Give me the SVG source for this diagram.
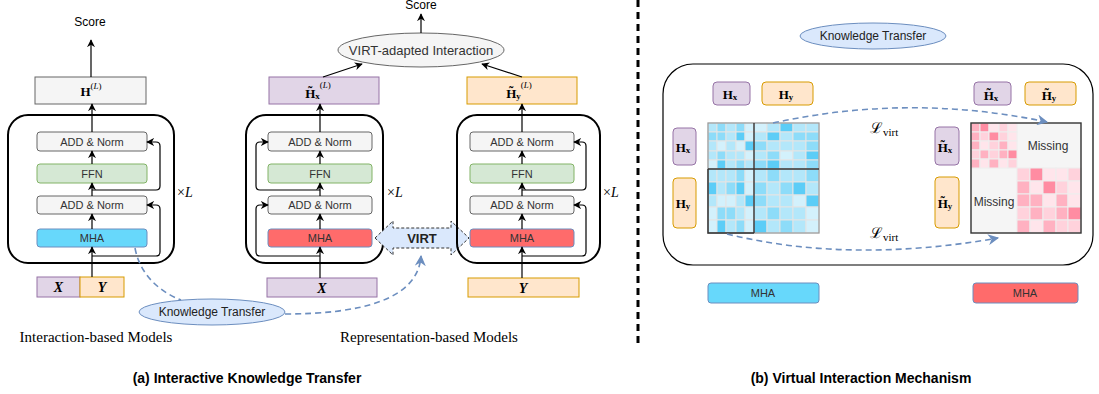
<svg xmlns="http://www.w3.org/2000/svg" width="1099" height="394" viewBox="0 0 1099 394">
<style>
.lbl{font-family:"Liberation Sans",Arial,sans-serif;font-size:11px;fill:#333;text-anchor:middle;dominant-baseline:central}
.sans{font-family:"Liberation Sans",Arial,sans-serif;text-anchor:middle;dominant-baseline:central}
.serif{font-family:"Liberation Serif","Times New Roman",serif}
.mth{font-family:"Liberation Serif","DejaVu Serif",serif;font-weight:bold;text-anchor:middle;dominant-baseline:central}
.gray{fill:#f5f5f5;stroke:#666;stroke-width:1}
.green{fill:#d5e8d4;stroke:#82b366;stroke-width:1}
.blue{fill:#67d8fb;stroke:#6c8ebf;stroke-width:1}
.red{fill:#ff6b6b;stroke:#6c8ebf;stroke-width:1}
.purple{fill:#e1d5e7;stroke:#9673a6;stroke-width:1}
.orange{fill:#ffe6cc;stroke:#d79b00;stroke-width:1}
.kt{fill:#dae8fc;stroke:#6c8ebf;stroke-width:1}
.frame{fill:none;stroke:#000;stroke-width:2}
.ln{fill:none;stroke:#000;stroke-width:1.2}
.dash{fill:none;stroke:#6c8ebf;stroke-width:1.6;stroke-dasharray:6 4}
.b1{fill:#5ccdf7;stroke:#e4e4e4}.b2{fill:#8ddcf9;stroke:#e4e4e4}.b3{fill:#b3e7fa;stroke:#e4e4e4}.b4{fill:#d3f1fc;stroke:#e4e4e4}
.p1{fill:#ff8ca2;stroke:#eee}.p2{fill:#ffb1c1;stroke:#eee}.p3{fill:#ffd2dc;stroke:#eee}.p4{fill:#ffe5eb;stroke:#eee}
.cap{font-family:"Liberation Sans",Arial,sans-serif;font-size:14px;font-weight:bold;fill:#000;text-anchor:middle;dominant-baseline:central}
</style>
<defs>
<marker id="ah" viewBox="0 0 10 10" refX="9" refY="5" markerWidth="8" markerHeight="8" markerUnits="userSpaceOnUse" orient="auto"><path d="M0,0 L10,5 L0,10 L3,5 z" fill="#000"/></marker>
<marker id="ahb" viewBox="0 0 10 10" refX="9" refY="5" markerWidth="11" markerHeight="11" markerUnits="userSpaceOnUse" orient="auto"><path d="M0,0 L10,5 L0,10 L3,5 z" fill="#6c8ebf"/></marker>
</defs>
<rect width="1099" height="394" fill="#fff"/>

<!-- separator -->
<line x1="638" y1="0" x2="638" y2="345" stroke="#000" stroke-width="3" stroke-dasharray="7 5"/>

<!-- ===== Left: interaction-based model ===== -->
<g id="score-left"><text x="90" y="22" class="sans" font-size="12" fill="#000">Score</text></g>
<g id="H-L"><rect x="35" y="77" width="111" height="27" class="gray"/>
<text x="91" y="91" class="mth" font-size="13">H<tspan font-size="9" font-weight="normal" dy="-5">(</tspan><tspan font-size="9" font-weight="normal" font-style="italic">L</tspan><tspan font-size="9" font-weight="normal">)</tspan></text></g>
<g id="block-left">
<rect x="8" y="115" width="166" height="148" rx="20" class="frame"/>
<rect x="37" y="132" width="110" height="19" rx="3" class="gray"/><text x="92" y="141.5" class="lbl">ADD &amp; Norm</text>
<rect x="37" y="164" width="110" height="19" rx="3" class="green"/><text x="92" y="173.5" class="lbl">FFN</text>
<rect x="37" y="196" width="110" height="18" rx="3" class="gray"/><text x="92" y="205" class="lbl">ADD &amp; Norm</text>
<rect x="37" y="229" width="110" height="18" rx="3" class="blue"/><text x="92" y="238" class="lbl">MHA</text>
</g>
<g id="xl-left"><text x="177" y="197" class="serif" font-size="14">×<tspan font-style="italic">L</tspan></text></g>
<g id="XY-left">
<rect x="37" y="277" width="43" height="20" class="purple"/><text x="58.5" y="287" class="mth" font-size="14" font-style="italic">X</text>
<rect x="80" y="277" width="44" height="20" class="orange"/><text x="102" y="287" class="mth" font-size="14" font-style="italic">Y</text>
</g>
<g id="kt-left"><ellipse cx="212" cy="312" rx="73" ry="13" class="kt"/><text x="212" y="312" class="sans" font-size="12" fill="#222">Knowledge Transfer</text></g>
<text x="96" y="337" class="serif" font-size="15" text-anchor="middle" dominant-baseline="central">Interaction-based Models</text>

<!-- ===== Middle: representation X ===== -->
<g id="score-mid"><text x="421" y="5" class="sans" font-size="12" fill="#000">Score</text></g>
<g id="virt-inter"><ellipse cx="421" cy="50" rx="83" ry="17" class="gray"/><text x="421" y="50" class="sans" font-size="13" fill="#333">VIRT-adapted Interaction</text></g>
<g id="Hx-L"><rect x="269" y="77" width="110" height="27" class="purple"/>
<text x="318" y="93" class="mth" font-size="13">H̃<tspan font-size="9" dy="3">x</tspan><tspan font-size="9" font-weight="normal" dy="-11">(</tspan><tspan font-size="9" font-weight="normal" font-style="italic">L</tspan><tspan font-size="9" font-weight="normal">)</tspan></text></g>
<g id="block-x">
<rect x="246" y="115" width="137" height="148" rx="20" class="frame"/>
<rect x="268" y="132" width="104" height="19" rx="3" class="gray"/><text x="320" y="141.5" class="lbl">ADD &amp; Norm</text>
<rect x="268" y="164" width="104" height="19" rx="3" class="green"/><text x="320" y="173.5" class="lbl">FFN</text>
<rect x="268" y="196" width="104" height="18" rx="3" class="gray"/><text x="320" y="205" class="lbl">ADD &amp; Norm</text>
<rect x="268" y="229" width="104" height="18" rx="3" class="red"/><text x="320" y="238" class="lbl">MHA</text>
</g>
<g id="xl-mid"><text x="387" y="197" class="serif" font-size="14">×<tspan font-style="italic">L</tspan></text></g>
<g id="X-mid"><rect x="267" y="278" width="110" height="19" class="purple"/><text x="322" y="288" class="mth" font-size="14" font-style="italic">X</text></g>
<g id="virt"><path d="M375,238 L393,221 L393,228 L451,228 L451,221 L469,238 L451,255 L451,248 L393,248 L393,255 Z" fill="#dae8fc" stroke="#333" stroke-width="1" stroke-dasharray="3 2"/><text x="422" y="238" class="sans" font-size="13" font-weight="bold" fill="#222">VIRT</text></g>
<text x="429" y="337" class="serif" font-size="15" text-anchor="middle" dominant-baseline="central">Representation-based Models</text>

<!-- ===== Right: representation Y ===== -->
<g id="Hy-L"><rect x="467" y="77" width="110" height="27" class="orange"/>
<text x="519" y="93" class="mth" font-size="13">H̃<tspan font-size="9" dy="3">y</tspan><tspan font-size="9" font-weight="normal" dy="-11">(</tspan><tspan font-size="9" font-weight="normal" font-style="italic">L</tspan><tspan font-size="9" font-weight="normal">)</tspan></text></g>
<g id="block-y">
<rect x="457" y="115" width="143" height="148" rx="20" class="frame"/>
<rect x="470" y="132" width="104" height="19" rx="3" class="gray"/><text x="522" y="141.5" class="lbl">ADD &amp; Norm</text>
<rect x="470" y="164" width="104" height="19" rx="3" class="green"/><text x="522" y="173.5" class="lbl">FFN</text>
<rect x="470" y="196" width="104" height="18" rx="3" class="gray"/><text x="522" y="205" class="lbl">ADD &amp; Norm</text>
<rect x="470" y="229" width="104" height="18" rx="3" class="red"/><text x="522" y="238" class="lbl">MHA</text>
</g>
<g id="xl-right"><text x="603" y="197" class="serif" font-size="14">×<tspan font-style="italic">L</tspan></text></g>
<g id="Y-right"><rect x="468" y="278" width="111" height="19" class="orange"/><text x="523" y="288" class="mth" font-size="14" font-style="italic">Y</text></g>

<!-- ===== Panel (b) ===== -->
<g id="kt-right"><ellipse cx="873" cy="36" rx="73" ry="13" class="kt"/><text x="873" y="36" class="sans" font-size="12" fill="#222">Knowledge Transfer</text></g>
<rect x="663" y="64" width="430" height="201" rx="30" fill="none" stroke="#000" stroke-width="1.2"/>
<g id="b-Hx"><rect x="713" y="82" width="37" height="23" rx="4" class="purple"/><text x="730" y="94" class="mth" font-size="13">H<tspan font-size="9" dy="3">x</tspan></text></g>
<g id="b-Hy"><rect x="762" y="82" width="51" height="23" rx="4" class="orange"/><text x="786" y="94" class="mth" font-size="13">H<tspan font-size="9" dy="3">y</tspan></text></g>
<g id="b-Htx"><rect x="974" y="82" width="37" height="23" rx="4" class="purple"/><text x="991" y="95" class="mth" font-size="13">H̃<tspan font-size="9" dy="3">x</tspan></text></g>
<g id="b-Hty"><rect x="1025" y="82" width="51" height="23" rx="4" class="orange"/><text x="1049" y="95" class="mth" font-size="13">H̃<tspan font-size="9" dy="3">y</tspan></text></g>
<g id="b-Hx-v"><rect x="673" y="128" width="23" height="37" rx="4" class="purple"/><text x="683" y="147" class="mth" font-size="13">H<tspan font-size="9" dy="3">x</tspan></text></g>
<g id="b-Hy-v"><rect x="673" y="178" width="23" height="50" rx="4" class="orange"/><text x="683" y="203" class="mth" font-size="13">H<tspan font-size="9" dy="3">y</tspan></text></g>
<g id="b-Htx-v"><rect x="935" y="127" width="24" height="38" rx="4" class="purple"/><text x="945" y="147" class="mth" font-size="13">H̃<tspan font-size="9" dy="3">x</tspan></text></g>
<g id="b-Hty-v"><rect x="935" y="177" width="24" height="51" rx="4" class="orange"/><text x="945" y="203" class="mth" font-size="13">H̃<tspan font-size="9" dy="3">y</tspan></text></g>

<!-- blue attention matrix -->
<g id="matrix-blue">
<rect x="708" y="123" width="111" height="110" fill="#e4e4e4"/>
<rect x="708" y="123" width="9" height="9" class="b3"/><rect x="717" y="123" width="9" height="9" class="b2"/><rect x="726" y="123" width="10" height="9" class="b3"/><rect x="736" y="123" width="9" height="9" class="b2"/><rect x="745" y="123" width="9" height="9" class="b4"/><rect x="754" y="123" width="13" height="9" class="b4"/><rect x="767" y="123" width="13" height="9" class="b3"/><rect x="780" y="123" width="13" height="9" class="b1"/><rect x="793" y="123" width="13" height="9" class="b3"/><rect x="806" y="123" width="13" height="9" class="b3"/>
<rect x="708" y="132" width="9" height="9" class="b2"/><rect x="717" y="132" width="9" height="9" class="b2"/><rect x="726" y="132" width="10" height="9" class="b3"/><rect x="736" y="132" width="9" height="9" class="b1"/><rect x="745" y="132" width="9" height="9" class="b4"/><rect x="754" y="132" width="13" height="9" class="b3"/><rect x="767" y="132" width="13" height="9" class="b1"/><rect x="780" y="132" width="13" height="9" class="b3"/><rect x="793" y="132" width="13" height="9" class="b2"/><rect x="806" y="132" width="13" height="9" class="b2"/>
<rect x="708" y="141" width="9" height="10" class="b3"/><rect x="717" y="141" width="9" height="10" class="b4"/><rect x="726" y="141" width="10" height="10" class="b3"/><rect x="736" y="141" width="9" height="10" class="b4"/><rect x="745" y="141" width="9" height="10" class="b1"/><rect x="754" y="141" width="13" height="10" class="b2"/><rect x="767" y="141" width="13" height="10" class="b3"/><rect x="780" y="141" width="13" height="10" class="b3"/><rect x="793" y="141" width="13" height="10" class="b3"/><rect x="806" y="141" width="13" height="10" class="b2"/>
<rect x="708" y="151" width="9" height="9" class="b3"/><rect x="717" y="151" width="9" height="9" class="b2"/><rect x="726" y="151" width="10" height="9" class="b3"/><rect x="736" y="151" width="9" height="9" class="b3"/><rect x="745" y="151" width="9" height="9" class="b4"/><rect x="754" y="151" width="13" height="9" class="b3"/><rect x="767" y="151" width="13" height="9" class="b2"/><rect x="780" y="151" width="13" height="9" class="b4"/><rect x="793" y="151" width="13" height="9" class="b3"/><rect x="806" y="151" width="13" height="9" class="b1"/>
<rect x="708" y="160" width="9" height="9" class="b4"/><rect x="717" y="160" width="9" height="9" class="b1"/><rect x="726" y="160" width="10" height="9" class="b3"/><rect x="736" y="160" width="9" height="9" class="b2"/><rect x="745" y="160" width="9" height="9" class="b3"/><rect x="754" y="160" width="13" height="9" class="b2"/><rect x="767" y="160" width="13" height="9" class="b1"/><rect x="780" y="160" width="13" height="9" class="b3"/><rect x="793" y="160" width="13" height="9" class="b3"/><rect x="806" y="160" width="13" height="9" class="b2"/>
<rect x="708" y="169" width="9" height="13" class="b3"/><rect x="717" y="169" width="9" height="13" class="b3"/><rect x="726" y="169" width="10" height="13" class="b3"/><rect x="736" y="169" width="9" height="13" class="b2"/><rect x="745" y="169" width="9" height="13" class="b4"/><rect x="754" y="169" width="13" height="13" class="b3"/><rect x="767" y="169" width="13" height="13" class="b2"/><rect x="780" y="169" width="13" height="13" class="b3"/><rect x="793" y="169" width="13" height="13" class="b3"/><rect x="806" y="169" width="13" height="13" class="b2"/>
<rect x="708" y="182" width="9" height="13" class="b1"/><rect x="717" y="182" width="9" height="13" class="b3"/><rect x="726" y="182" width="10" height="13" class="b2"/><rect x="736" y="182" width="9" height="13" class="b1"/><rect x="745" y="182" width="9" height="13" class="b4"/><rect x="754" y="182" width="13" height="13" class="b2"/><rect x="767" y="182" width="13" height="13" class="b3"/><rect x="780" y="182" width="13" height="13" class="b2"/><rect x="793" y="182" width="13" height="13" class="b1"/><rect x="806" y="182" width="13" height="13" class="b3"/>
<rect x="708" y="195" width="9" height="12" class="b3"/><rect x="717" y="195" width="9" height="12" class="b4"/><rect x="726" y="195" width="10" height="12" class="b4"/><rect x="736" y="195" width="9" height="12" class="b3"/><rect x="745" y="195" width="9" height="12" class="b1"/><rect x="754" y="195" width="13" height="12" class="b2"/><rect x="767" y="195" width="13" height="12" class="b3"/><rect x="780" y="195" width="13" height="12" class="b3"/><rect x="793" y="195" width="13" height="12" class="b4"/><rect x="806" y="195" width="13" height="12" class="b1"/>
<rect x="708" y="207" width="9" height="13" class="b4"/><rect x="717" y="207" width="9" height="13" class="b2"/><rect x="726" y="207" width="10" height="13" class="b2"/><rect x="736" y="207" width="9" height="13" class="b3"/><rect x="745" y="207" width="9" height="13" class="b4"/><rect x="754" y="207" width="13" height="13" class="b3"/><rect x="767" y="207" width="13" height="13" class="b2"/><rect x="780" y="207" width="13" height="13" class="b3"/><rect x="793" y="207" width="13" height="13" class="b3"/><rect x="806" y="207" width="13" height="13" class="b4"/>
<rect x="708" y="220" width="9" height="13" class="b4"/><rect x="717" y="220" width="9" height="13" class="b1"/><rect x="726" y="220" width="10" height="13" class="b3"/><rect x="736" y="220" width="9" height="13" class="b2"/><rect x="745" y="220" width="9" height="13" class="b4"/><rect x="754" y="220" width="13" height="13" class="b1"/><rect x="767" y="220" width="13" height="13" class="b3"/><rect x="780" y="220" width="13" height="13" class="b2"/><rect x="793" y="220" width="13" height="13" class="b3"/><rect x="806" y="220" width="13" height="13" class="b4"/>
<rect x="708" y="123" width="111" height="110" fill="none" stroke="#999" stroke-width="1.2"/>
<path d="M754,123 V233 M708,169 H819 M708,169 V233 H754" fill="none" stroke="#333" stroke-width="1.4"/>
</g>

<!-- red attention matrix -->
<g id="matrix-red">
<rect x="971" y="123" width="110" height="110" fill="#f5f5f5"/>
<rect x="971" y="123" width="9" height="9" class="p2"/><rect x="980" y="123" width="9" height="9" class="p1"/><rect x="989" y="123" width="10" height="9" class="p4"/><rect x="999" y="123" width="9" height="9" class="p3"/><rect x="1008" y="123" width="9" height="9" class="p4"/>
<rect x="971" y="132" width="9" height="9" class="p2"/><rect x="980" y="132" width="9" height="9" class="p3"/><rect x="989" y="132" width="10" height="9" class="p1"/><rect x="999" y="132" width="9" height="9" class="p3"/><rect x="1008" y="132" width="9" height="9" class="p4"/>
<rect x="971" y="141" width="9" height="9" class="p2"/><rect x="980" y="141" width="9" height="9" class="p4"/><rect x="989" y="141" width="10" height="9" class="p3"/><rect x="999" y="141" width="9" height="9" class="p2"/><rect x="1008" y="141" width="9" height="9" class="p4"/>
<rect x="971" y="150" width="9" height="9" class="p3"/><rect x="980" y="150" width="9" height="9" class="p2"/><rect x="989" y="150" width="10" height="9" class="p3"/><rect x="999" y="150" width="9" height="9" class="p2"/><rect x="1008" y="150" width="9" height="9" class="p1"/>
<rect x="971" y="159" width="9" height="9" class="p2"/><rect x="980" y="159" width="9" height="9" class="p4"/><rect x="989" y="159" width="10" height="9" class="p2"/><rect x="999" y="159" width="9" height="9" class="p4"/><rect x="1008" y="159" width="9" height="9" class="p3"/>
<rect x="1017" y="168" width="13" height="13" class="p3"/><rect x="1030" y="168" width="13" height="13" class="p1"/><rect x="1043" y="168" width="13" height="13" class="p4"/><rect x="1056" y="168" width="12" height="13" class="p4"/><rect x="1068" y="168" width="13" height="13" class="p3"/>
<rect x="1017" y="181" width="13" height="13" class="p2"/><rect x="1030" y="181" width="13" height="13" class="p4"/><rect x="1043" y="181" width="13" height="13" class="p1"/><rect x="1056" y="181" width="12" height="13" class="p3"/><rect x="1068" y="181" width="13" height="13" class="p4"/>
<rect x="1017" y="194" width="13" height="13" class="p2"/><rect x="1030" y="194" width="13" height="13" class="p2"/><rect x="1043" y="194" width="13" height="13" class="p4"/><rect x="1056" y="194" width="12" height="13" class="p2"/><rect x="1068" y="194" width="13" height="13" class="p4"/>
<rect x="1017" y="207" width="13" height="13" class="p3"/><rect x="1030" y="207" width="13" height="13" class="p2"/><rect x="1043" y="207" width="13" height="13" class="p3"/><rect x="1056" y="207" width="12" height="13" class="p2"/><rect x="1068" y="207" width="13" height="13" class="p1"/>
<rect x="1017" y="220" width="13" height="13" class="p2"/><rect x="1030" y="220" width="13" height="13" class="p4"/><rect x="1043" y="220" width="13" height="13" class="p2"/><rect x="1056" y="220" width="12" height="13" class="p3"/><rect x="1068" y="220" width="13" height="13" class="p3"/>
<text x="1048" y="146" class="sans" font-size="12" fill="#333">Missing</text>
<text x="994" y="202" class="sans" font-size="12" fill="#333">Missing</text>
<rect x="971" y="123" width="110" height="110" fill="none" stroke="#333" stroke-width="1.4"/>
</g>
<g id="lvirt">
<text x="870" y="133" font-family="'DejaVu Serif','Liberation Serif',serif" font-size="15">ℒ<tspan font-family="'Liberation Serif',serif" font-size="11" dy="3">virt</tspan></text>
<text x="870" y="238" font-family="'DejaVu Serif','Liberation Serif',serif" font-size="15">ℒ<tspan font-family="'Liberation Serif',serif" font-size="11" dy="3">virt</tspan></text>
</g>
<g id="b-mha">
<rect x="708" y="283" width="111" height="20" rx="3" class="blue"/><text x="763" y="293" class="lbl">MHA</text>
<rect x="973" y="283" width="105" height="20" rx="3" class="red"/><text x="1025" y="293" class="lbl">MHA</text>
</g>

<!-- captions -->
<text x="247" y="378" class="cap">(a) Interactive Knowledge Transfer</text>
<text x="861" y="378" class="cap">(b) Virtual Interaction Mechanism</text>

<!-- ===== connectors ===== -->
<g id="connectors">
<path class="ln" marker-end="url(#ah)" d="M92,277 V247"/>
<path class="ln" marker-end="url(#ah)" d="M92,229 V214"/>
<path class="ln" marker-end="url(#ah)" d="M92,196 V183"/>
<path class="ln" marker-end="url(#ah)" d="M92,164 V151"/>
<path class="ln" marker-end="url(#ah)" d="M92,132 V104"/>
<path class="ln" marker-end="url(#ah)" d="M91,77 V40"/>
<path class="ln" marker-end="url(#ah)" d="M92,190 H156 Q160,190 160,186 V146 Q160,142 156,142 H147"/>
<path class="ln" marker-end="url(#ah)" d="M92,256 H156 Q160,256 160,252 V209 Q160,205 156,205 H147"/>

<path class="ln" marker-end="url(#ah)" d="M320,278 V247"/>
<path class="ln" marker-end="url(#ah)" d="M320,229 V214"/>
<path class="ln" marker-end="url(#ah)" d="M320,196 V183"/>
<path class="ln" marker-end="url(#ah)" d="M320,164 V151"/>
<path class="ln" marker-end="url(#ah)" d="M320,132 V104"/>
<path class="ln" marker-end="url(#ah)" d="M320,190 H260 Q256,190 256,186 V146 Q256,142 260,142 H268"/>
<path class="ln" marker-end="url(#ah)" d="M320,256 H260 Q256,256 256,252 V209 Q256,205 260,205 H268"/>
<path class="ln" marker-end="url(#ah)" d="M323,77 L362,64"/>

<path class="ln" marker-end="url(#ah)" d="M522,278 V247"/>
<path class="ln" marker-end="url(#ah)" d="M522,229 V214"/>
<path class="ln" marker-end="url(#ah)" d="M522,196 V183"/>
<path class="ln" marker-end="url(#ah)" d="M522,164 V151"/>
<path class="ln" marker-end="url(#ah)" d="M522,132 V104"/>
<path class="ln" marker-end="url(#ah)" d="M522,190 H582 Q586,190 586,186 V146 Q586,142 582,142 H574"/>
<path class="ln" marker-end="url(#ah)" d="M522,256 H582 Q586,256 586,252 V209 Q586,205 582,205 H574"/>
<path class="ln" marker-end="url(#ah)" d="M522,77 L482,64"/>

<path class="ln" marker-end="url(#ah)" d="M421,33 V14"/>

<path class="dash" d="M135,248 C140,275 160,292 181,300"/>
<path class="dash" marker-end="url(#ahb)" d="M285,314 C360,314 418,300 421,256"/>

<path class="dash" marker-end="url(#ahb)" d="M773,123 Q910,93 1047,122"/>
<path class="dash" marker-end="url(#ahb)" d="M727,234 Q850,264 998,238"/>
</g>
</svg>
